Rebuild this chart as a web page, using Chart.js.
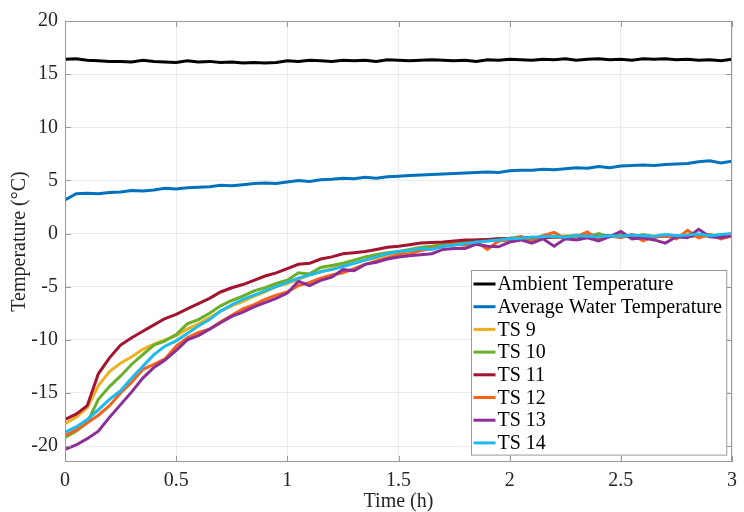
<!DOCTYPE html>
<html>
<head>
<meta charset="utf-8">
<script src="https://cdn.jsdelivr.net/npm/chart.js@4.4.0/dist/chart.umd.min.js"></script>
<style>
  html, body { margin: 0; padding: 0; background: #fff; }
  #wrap { width: 744px; height: 512px; }
</style>
</head>
<body>
<div id="wrap"><canvas id="chart" width="744" height="512"></canvas></div>
<script>
// ==========================================
// DATA
// ==========================================
const times = [0, 0.05, 0.1, 0.15, 0.2, 0.25, 0.3, 0.35, 0.4, 0.45,
  0.5, 0.55, 0.6, 0.65, 0.7, 0.75, 0.8, 0.85, 0.9, 0.95,
  1, 1.05, 1.1, 1.15, 1.2, 1.25, 1.3, 1.35, 1.4, 1.45,
  1.5, 1.55, 1.6, 1.65, 1.7, 1.75, 1.8, 1.85, 1.9, 1.95,
  2, 2.05, 2.1, 2.15, 2.2, 2.25, 2.3, 2.35, 2.4, 2.45,
  2.5, 2.55, 2.6, 2.65, 2.7, 2.75, 2.8, 2.85, 2.9, 2.95, 3];

const ambient = [16.4, 16.45, 16.3, 16.25, 16.2, 16.2, 16.15, 16.3, 16.2, 16.15,
  16.1, 16.25, 16.15, 16.2, 16.1, 16.15, 16.05, 16.1, 16.05, 16.1,
  16.25, 16.2, 16.3, 16.25, 16.2, 16.3, 16.25, 16.3, 16.2, 16.35,
  16.3, 16.25, 16.3, 16.35, 16.3, 16.25, 16.3, 16.2, 16.35, 16.3,
  16.4, 16.35, 16.3, 16.4, 16.35, 16.45, 16.3, 16.4, 16.45, 16.35,
  16.4, 16.3, 16.45, 16.4, 16.45, 16.35, 16.4, 16.3, 16.35, 16.25, 16.4];

const avgWater = [3.15, 3.75, 3.8, 3.75, 3.85, 3.9, 4.05, 4.0, 4.1, 4.25,
  4.2, 4.3, 4.35, 4.4, 4.55, 4.5, 4.6, 4.7, 4.75, 4.7,
  4.85, 5.0, 4.9, 5.05, 5.1, 5.2, 5.15, 5.3, 5.2, 5.35,
  5.4, 5.45, 5.5, 5.55, 5.6, 5.65, 5.7, 5.75, 5.8, 5.75,
  5.9, 5.95, 5.95, 6.05, 6.0, 6.1, 6.2, 6.15, 6.3, 6.2,
  6.35, 6.4, 6.45, 6.4, 6.5, 6.55, 6.6, 6.75, 6.85, 6.65, 6.8];

const ts9 = [-17.9, -17.3, -16.4, -14.3, -13.0, -12.2, -11.6, -10.9, -10.4, -10.0,
  -9.6, -9.0, -8.5, -7.9, -7.3, -6.8, -6.4, -5.9, -5.5, -5.0,
  -4.7, -4.3, -3.9, -3.6, -3.3, -3.0, -2.8, -2.5, -2.3, -2.0,
  -1.8, -1.6, -1.5, -1.3, -1.2, -1.0, -0.9, -0.8, -0.7, -0.6,
  -0.5, -0.4, -0.45, -0.3, -0.35, -0.2, -0.3, -0.35, -0.2, -0.25,
  -0.1, -0.3, -0.2, -0.25, -0.15, -0.2, -0.3, -0.1, -0.2, -0.25, -0.15];

const ts10 = [-19.2, -18.6, -17.8, -15.6, -14.4, -13.4, -12.3, -11.4, -10.5, -10.1,
  -9.5, -8.5, -8.1, -7.5, -6.8, -6.3, -5.9, -5.4, -5.1, -4.7,
  -4.4, -3.7, -3.8, -3.2, -3.0, -2.8, -2.5, -2.2, -2.0, -1.8,
  -1.7, -1.5, -1.3, -1.2, -1.0, -0.9, -0.8, -0.6, -0.6, -0.5,
  -0.45, -0.3, -0.5, -0.2, -0.35, -0.3, -0.15, -0.3, 0.0, -0.3,
  -0.2, -0.35, -0.1, -0.3, -0.2, -0.4, -0.15, -0.25, -0.1, -0.3, -0.2];

const ts11 = [-17.5, -17.0, -16.2, -13.2, -11.7, -10.5, -9.8, -9.2, -8.6, -8.0,
  -7.6, -7.1, -6.6, -6.1, -5.5, -5.1, -4.8, -4.4, -4.0, -3.7,
  -3.3, -2.9, -2.8, -2.4, -2.2, -1.9, -1.8, -1.7, -1.5, -1.3,
  -1.2, -1.05, -0.9, -0.85, -0.8, -0.7, -0.6, -0.6, -0.55, -0.5,
  -0.5, -0.45, -0.35, -0.45, -0.3, -0.35, -0.3, -0.2, -0.3, -0.2,
  -0.3, -0.15, -0.25, -0.35, -0.2, -0.25, -0.3, -0.15, -0.25, -0.3, -0.2];

const ts12 = [-19.0, -18.5, -17.8, -17.1, -16.2, -15.0, -14.0, -12.8, -12.3, -11.8,
  -10.6, -9.8, -9.3, -9.0, -8.3, -7.7, -7.1, -6.7, -6.2, -5.8,
  -5.5, -4.9, -4.6, -4.2, -3.9, -3.7, -3.3, -2.9, -2.6, -2.3,
  -2.0, -1.9, -1.6, -1.4, -1.2, -1.0, -1.1, -0.8, -1.5, -0.7,
  -0.6, -0.3, -0.8, -0.2, 0.1, -0.5, -0.3, 0.15, -0.6, -0.2,
  -0.4, -0.1, -0.7, -0.3, -0.2, -0.5, 0.3, -0.4, -0.1, -0.5, -0.2];

const ts13 = [-20.3, -19.9, -19.3, -18.6, -17.3, -16.1, -14.9, -13.6, -12.6, -11.9,
  -11.0, -10.0, -9.6, -9.0, -8.4, -7.8, -7.4, -6.9, -6.5, -6.1,
  -5.6, -4.5, -4.9, -4.4, -4.1, -3.4, -3.5, -2.9, -2.7, -2.4,
  -2.2, -2.1, -2.0, -1.9, -1.5, -1.4, -1.4, -1.0, -1.2, -1.25,
  -0.8, -0.6, -0.9, -0.5, -1.2, -0.5, -0.6, -0.4, -0.7, -0.3,
  0.2, -0.5, -0.4, -0.6, -0.9, -0.3, -0.4, 0.4, -0.3, -0.4, -0.2];

const ts14 = [-18.7, -18.2, -17.5, -16.6, -15.6, -14.8, -13.6, -12.5, -11.4, -10.6,
  -10.1, -9.4, -8.7, -8.1, -7.3, -6.7, -6.2, -5.8, -5.4, -5.0,
  -4.6, -4.2, -3.9, -3.6, -3.4, -3.1, -2.8, -2.5, -2.2, -1.9,
  -1.7, -1.6, -1.4, -1.5, -1.2, -1.1, -0.95, -0.8, -0.7, -0.6,
  -0.5, -0.45, -0.35, -0.3, -0.25, -0.35, -0.2, -0.25, -0.3, -0.2,
  -0.25, -0.15, -0.2, -0.25, -0.1, -0.2, -0.15, -0.05, -0.2, -0.1, 0.0];

const seriesNames = ['Ambient Temperature', 'Average Water Temperature',
  'TS 9', 'TS 10', 'TS 11', 'TS 12', 'TS 13', 'TS 14'];
const seriesValues = [ambient, avgWater, ts9, ts10, ts11, ts12, ts13, ts14];
const seriesColors = ['#000000', '#0072BD', '#EDB120', '#6AAF2A',
  '#A2142F', '#F4621C', '#8B2F96', '#1DBBEE'];

const xTicks = [0, 0.5, 1, 1.5, 2, 2.5, 3];
const yTicks = [-20, -15, -10, -5, 0, 5, 10, 15, 20];

// ==========================================
// STYLE
// ==========================================
const FONT = "'Liberation Serif', 'Times New Roman', serif";
const AXIS_COLOR = '#999999';
const GRID_COLOR = '#ebebeb';

// box + inward tick marks, MATLAB style
const axesBox = {
  id: 'axesBox',
  afterDatasetsDraw(chart) {
    const { ctx, chartArea: a, scales: { x, y } } = chart;
    ctx.save();
    ctx.strokeStyle = AXIS_COLOR;
    ctx.lineWidth = 1;
    ctx.strokeRect(a.left + 0.5, a.top + 0.5, a.right - a.left - 1, a.bottom - a.top - 1);
    ctx.beginPath();
    const tl = 6;
    yTicks.forEach(v => {
      const py = Math.round(y.getPixelForValue(v)) + 0.5;
      ctx.moveTo(a.left, py); ctx.lineTo(a.left + tl, py);
      ctx.moveTo(a.right, py); ctx.lineTo(a.right - tl, py);
    });
    xTicks.forEach(v => {
      const px = Math.round(x.getPixelForValue(v)) + 0.5;
      ctx.moveTo(px, a.bottom); ctx.lineTo(px, a.bottom - tl);
      ctx.moveTo(px, a.top); ctx.lineTo(px, a.top + tl);
    });
    ctx.stroke();
    ctx.restore();
  }
};

// legend box in the lower right of the plot
const legendBox = {
  id: 'legendBox',
  afterDraw(chart) {
    const { ctx, chartArea: a } = chart;
    ctx.save();
    ctx.font = '20px ' + FONT;
    const maxW = Math.max(...seriesNames.map(n => ctx.measureText(n).width));
    const rowH = 22.7;
    const w = 26 + maxW + 5;
    const h = seriesNames.length * rowH + 3;
    const right = a.right - 6;
    const bottom = a.bottom - 7;
    const left = Math.round(right - w) + 0.5;
    const top = Math.round(bottom - h) + 0.5;
    ctx.fillStyle = '#ffffff';
    ctx.fillRect(left, top, w, h);
    ctx.strokeStyle = AXIS_COLOR;
    ctx.lineWidth = 1;
    ctx.strokeRect(left, top, w, h);
    ctx.textBaseline = 'middle';
    ctx.textAlign = 'left';
    seriesNames.forEach((name, i) => {
      const cy = top + 13.5 + i * rowH;
      ctx.strokeStyle = seriesColors[i];
      ctx.lineWidth = 3;
      ctx.beginPath();
      ctx.moveTo(left + 2, cy);
      ctx.lineTo(left + 24, cy);
      ctx.stroke();
      ctx.fillStyle = '#000000';
      ctx.fillText(name, left + 26, cy + 1);
    });
    ctx.restore();
  }
};

// ==========================================
// CHART
// ==========================================
const datasets = seriesValues.map((vals, i) => ({
  label: seriesNames[i],
  data: vals.map((v, k) => ({ x: times[k], y: v })),
  borderColor: seriesColors[i],
  backgroundColor: seriesColors[i],
  borderWidth: 3,
  pointRadius: 0,
  tension: 0,
  fill: false,
  order: seriesNames.length - i
}));

new Chart(document.getElementById('chart'), {
  type: 'line',
  data: { datasets },
  options: {
    responsive: false,
    animation: false,
    layout: { padding: { left: 0, right: 3, top: 21, bottom: 0 } },
    plugins: {
      legend: { display: false },
      tooltip: { enabled: false }
    },
    scales: {
      x: {
        type: 'linear',
        min: 0,
        max: 3,
        afterFit: s => { s.height = 50; },
        afterBuildTicks: s => { s.ticks = xTicks.map(v => ({ value: v })); },
        grid: { color: GRID_COLOR, drawTicks: false },
        border: { display: false },
        ticks: {
          padding: 7,
          color: '#262626',
          font: { family: FONT, size: 20 },
          callback: v => String(v)
        },
        title: {
          display: true,
          text: 'Time (h)',
          color: '#262626',
          font: { family: FONT, size: 20, lineHeight: 1.05 },
          padding: { top: 0, bottom: 0 }
        }
      },
      y: {
        type: 'linear',
        min: -21.5,
        max: 20,
        afterFit: s => { s.width = 65; },
        afterBuildTicks: s => { s.ticks = yTicks.map(v => ({ value: v })); },
        grid: { color: GRID_COLOR, drawTicks: false },
        border: { display: false },
        ticks: {
          padding: 7,
          color: '#262626',
          font: { family: FONT, size: 20 },
          callback: v => String(v)
        },
        title: {
          display: true,
          text: 'Temperature (°C)',
          color: '#262626',
          font: { family: FONT, size: 20 },
          padding: { top: 8, bottom: 0 }
        }
      }
    }
  },
  plugins: [axesBox, legendBox]
});
</script>
</body>
</html>
